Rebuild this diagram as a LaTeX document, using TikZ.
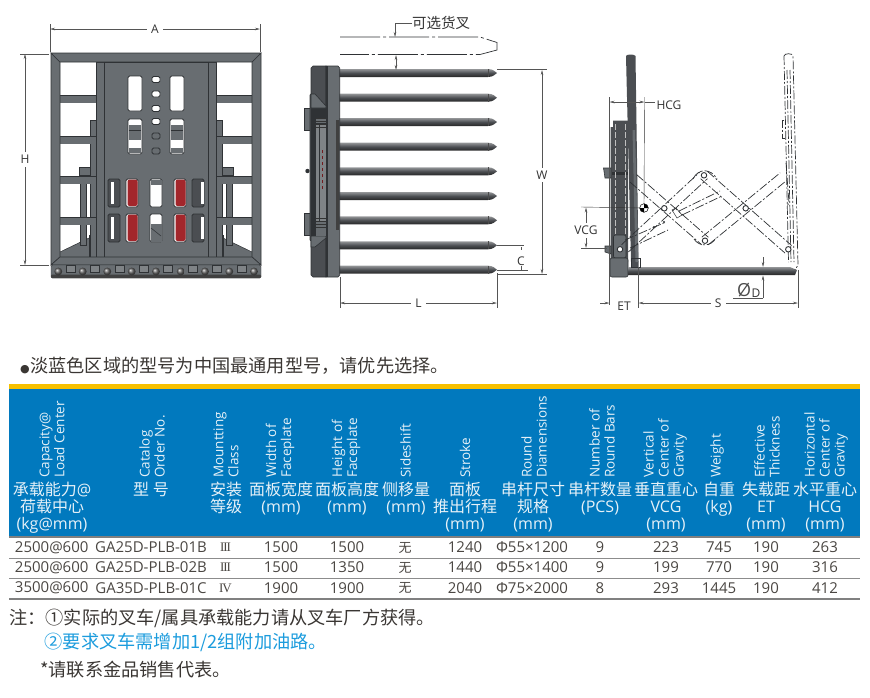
\documentclass[tikz,border=0pt]{standalone}
\usepackage{fontspec}
\setmainfont{Open Sans}
\newfontfamily\cjk{Noto Sans CJK SC}
\newfontfamily\romanum[LetterSpace=-8]{Liberation Serif}
\usepackage{xcolor}
\usetikzlibrary{arrows.meta, calc, positioning}

\definecolor{framegray}{HTML}{686D71}
\definecolor{frameline}{HTML}{2F3235}
\definecolor{darkgray}{HTML}{4B4E52}
\definecolor{slotred}{HTML}{A3262B}
\definecolor{headblue}{HTML}{0179BE}
\definecolor{headyellow}{HTML}{F7C000}
\definecolor{headtext}{HTML}{E6F1F8}
\definecolor{rowtext}{HTML}{4A4642}
\definecolor{ruleline}{HTML}{8C8C8C}
\definecolor{notetext}{HTML}{3A3633}
\definecolor{noteblue}{HTML}{1C9CDD}
\definecolor{dimline}{HTML}{555555}

\begin{document}
\begin{tikzpicture}[
    x=1pt, y=-1pt,
    framepart/.style={fill=framegray, draw=frameline, line width=0.6pt},
    slotbox/.style={fill=white, draw=frameline, line width=0.9pt, rounded corners=1.5pt},
    shadebar/.style={top color=#1!60!white, bottom color=black!85, middle color=#1},
    shadebar/.default=darkgray,
    linkline/.style={draw=frameline, line width=0.7pt, dash pattern=on 9pt off 2pt on 2pt off 2pt},
    dimext/.style={draw=dimline, line width=0.4pt},
    dimarrow/.style={draw=dimline, line width=0.5pt, {Stealth[length=5pt,width=2.5pt]}-{Stealth[length=5pt,width=2.5pt]}},
    dimtip/.style={draw=dimline, line width=0.5pt, -{Stealth[length=5pt,width=2.5pt]}},
    dimlabel/.style={font=\fontsize{12}{13}\selectfont, text=black!80, fill=white, inner sep=1pt},
    pivot/.style={circle, draw=frameline, fill=white, line width=0.9pt, inner sep=0pt, minimum size=5.5pt},
    headrot/.style={rotate=90, anchor=west, align=left, inner sep=0pt, text=headtext, font=\fontsize{13.5}{15}\selectfont},
    headcn/.style={anchor=north, align=center, inner sep=0pt, text=headtext, font=\fontsize{16}{17.2}\selectfont},
    rowcell/.style={inner sep=0pt, text=rowtext, font=\fontsize{15}{16}\selectfont},
    notetxt/.style={anchor=west, inner sep=0pt, text=notetext, font=\fontsize{18.2}{20}\selectfont}
]
\useasboundingbox (0,0) rectangle (870,697);

% Front view
\begin{scope}[shift={(156,0)}]
  \foreach \mx in {1,-1} {
    \begin{scope}[xscale=\mx]
      \fill[framegray] (96,252) -- (67,238) -- (67,257) -- (96,257) -- cycle;
      \draw[frameline, line width=0.5pt] (96,252) -- (67,238);
      \draw[frameline, line width=0.9pt] (67,235) -- (67,257);
      \draw[framepart] (70,175) rectangle (76,245);
      \draw[framepart] (60,120) rectangle (66,257);
      \draw[framepart] (66,167) rectangle (77,175);
      \foreach \ry in {95,136,176,217} {
        \draw[framepart, draw=none] (60,\ry) rectangle (96,\ry+7.5);
        \draw[frameline, line width=0.3pt] (60,\ry) -- (96,\ry);
      }
      \draw[framepart] (52,62) rectangle (60,257);
      \draw[framepart] (105,53) -- (105,265) -- (96,257) -- (96,62) -- cycle;
    \end{scope}
  }
  \draw[framepart] (-105,53) -- (105,53) -- (96,62) -- (-96,62) -- cycle;
  \draw[framepart] (-52,62) rectangle (52,257);
  \draw[framepart] (-96,257) -- (96,257) -- (105,265) -- (-105,265) -- cycle;
  \draw[fill=framegray, draw=frameline, rounded corners=1.5pt] (-105,265) rectangle (105,278);
  \fill[black!75, rounded corners=1pt] (-105,274.5) rectangle (105,278);
  % Slots
  \foreach \mx in {-21,21} {
    \draw[slotbox] (\mx-7,76) rectangle (\mx+7,111);
    \draw[slotbox] (\mx-7,119) rectangle (\mx+7,154);
    \fill[framegray] (\mx-6.4,125) rectangle (\mx+6.4,140);
    \fill[framegray] (\mx-6.4,148) rectangle (\mx+6.4,153.4);
    \draw[frameline, line width=0.4pt] (\mx-6.4,130) -- (\mx+6.4,130);
  }
  \foreach \ry/\rf in {79.5/white,94/white,108.5/white,121.5/white,136/framegray,151/framegray} {
    \draw[slotbox, fill=\rf] (-4,\ry-3) rectangle (4,\ry+3);
  }
  \foreach \ry in {179,214} {
    \foreach \mx in {-42,42} {
      \draw[slotbox, fill=darkgray] (\mx-6,\ry) rectangle (\mx+6,\ry+28);
      \fill[white] (\mx+\mx/14,\ry+3) rectangle (\mx+\mx/14+2.5,\ry+25);
    }
    \foreach \mx in {-24,24} {
      \draw[slotbox] (\mx-6,\ry) rectangle (\mx+6,\ry+28);
      \fill[slotred, rounded corners=2pt] (\mx-4.5,\ry+0.5) rectangle (\mx+5.5,\ry+27);
    }
    \draw[slotbox] (-6,\ry) rectangle (6,\ry+28);
  }
  \fill[framegray] (-5.5,179.5) rectangle (5.5,184.5);
  \fill[framegray] (-5.5,224) rectangle (5.5,241.5);
  \draw[frameline, line width=0.5pt] (-5,228) -- (5,236);
  % Studs
  \foreach \sx in {-85.5,-61,-36.5,-12,12,36.5,61,85.5} {
    \draw[frameline, line width=0.6pt, fill=framegray!85!white] (\sx-4.5,265) rectangle (\sx+4.5,272);
  }
  \foreach \sx in {-97.7,-73.3,-48.7,-24.3,0,24.7,49,73.3,98} {
    \shade[ball color=black!60] (\sx,271.5) circle (3.9);
  }
\end{scope}

% Front dimensions
\coordinate (al) at (50,29);
\coordinate (ar) at (260,29);
\coordinate (ht) at (25,54);
\coordinate (hb) at (25,265);
\draw[dimext] (50,24) -- (50,52);
\draw[dimext] (260.5,24) -- (260.5,52);
\draw[dimext] (20,54) -- (49,54);
\draw[dimext] (20,265) -- (49,265);
\draw[dimarrow] (al) -- node[dimlabel, fill=white, inner xsep=4pt] (lba) {A} (ar);
\draw[dimarrow] (ht) -- node[dimlabel, fill=white, inner ysep=3pt] (lbh) {H} (hb);

% Side view rods
\foreach \ry in {73,97.7,122,146.7,171.3,196,220.3,245.3,269.7} {
  \shade[shadebar] (338,\ry-4) -- (488,\ry-4) .. controls (493,\ry-4) and (495,\ry-1.5) .. (497,\ry)
    .. controls (495,\ry+1.5) and (493,\ry+4) .. (488,\ry+4) -- (338,\ry+4) -- cycle;
  \draw[black!70, line width=0.4pt] (488,\ry-4) -- (488,\ry+4);
}
% Side view faceplate
\draw[framepart] (304.5,108) rectangle (311,130);
\draw[framepart] (304.5,213) rectangle (311,235);
\fill[frameline] (307.5,171) circle (2.2);
\draw[framepart, fill=darkgray] (313,66) -- (326,66) -- (326,277) -- (313,277) -- (311,275) -- (311,241) -- (310,240)
  -- (310,95) -- (311,94) -- (311,68) -- cycle;
\draw[framepart] (326,66) -- (338,66) -- (339.7,68) -- (339.7,275) -- (338,277) -- (326,277) -- cycle;
\fill[frameline] (326,66) rectangle (328,277);
\fill[black!75] (336,120) rectangle (339,230);
\fill[frameline] (311,108) rectangle (326,236);
\draw[framepart] (311,94) -- (315,94) -- (326,106) -- (326,108) -- (311,108) -- cycle;
\draw[framepart] (311,236) -- (326,236) -- (326,238) -- (315,247) -- (311,247) -- cycle;
\fill[framegray] (316,118) rectangle (326,123);
\fill[framegray!85!white] (316,125) rectangle (326,222);
\fill[framegray] (316,222) rectangle (326,236);
\foreach \ry in {118,121,124,127,218,221,224,227} {
  \draw[black!80, line width=0.5pt] (316,\ry) -- (326,\ry);
}
\draw[frameline, line width=0.5pt] (319,125) -- (319,222);
\draw[slotred!70!black, line width=0.4pt, dashed] (322,150) -- (322,190);

% Optional fork
\draw[linkline, dash pattern=on 40pt off 3pt on 3pt off 3pt] (340,37) -- (480,37) -- (497,42.5) -- (497,50) -- (480,54.5) -- (340,54.5);
\node[inner sep=0pt, anchor=west, text=black!80, font=\fontsize{14.5}{15}\selectfont] (optfork) at (412,23) {\cjk 可选货叉};
\coordinate (optend) at (395,37);
\draw[dimtip] (optfork.west) -- (395,23) -- (optend);
\coordinate (gapt) at (396,55);
\coordinate (gapb) at (396,70);
\draw[dimarrow] (gapt) -- (gapb);

% Side view dimensions
\coordinate (wt) at (542,70);
\coordinate (wb) at (542,274);
\draw[dimext] (497,69.5) -- (547,69.5);
\draw[dimext] (497,274) -- (547,274);
\draw[dimarrow] (wt) -- node[dimlabel, inner ysep=3pt, pos=0.515] (lbw) {W} (wb);
\coordinate (lr) at (497,303);
\coordinate (ll) at (340,303);
\draw[dimext] (340,277) -- (340,308);
\draw[dimext] (497,273) -- (497,308);
\draw[dimarrow] (ll) -- node[dimlabel, inner xsep=4pt] (lbl) {L} (lr);
\draw[dimext] (497,245.3) -- (524,245.3);
\draw[dimext] (497,270) -- (528,270);
\draw[dimline, line width=0.5pt] (521.5,247) -- (521.5,250);
\node[dimlabel, fill=none] (lbc) at (521,261) {C};
\draw[dimline, line width=0.5pt] (521.5,266) -- (521.5,270);

% Shifted view, fixed fork
\draw[framepart, fill=darkgray, draw=none] (613,120.5) -- (628,120.5) -- (628,262) -- (610.5,262) -- (610.5,127) -- (613,127) -- cycle;
\draw[framepart] (603.5,168) -- (611,168) -- (611,178) -- (605,178) -- cycle;
\draw[framepart] (605,246) -- (611,246) -- (611,254) -- (605,252) -- cycle;
\fill[frameline] (612,172) rectangle (628,175);
\foreach \lx in {615,625} {
  \draw[black!25, line width=0.4pt, dash pattern=on 6pt off 2pt] (\lx,124) -- (\lx,235);
}
\draw[framepart, rounded corners=2pt] (613.5,235) rectangle (626,258);
\draw[framepart, rounded corners=2pt] (610,258) rectangle (628,277);
\shade[shadebar] (628,267) -- (790,267) -- (797,270) -- (795,275) -- (628,275) -- cycle;
\draw[framepart, draw=none, fill=darkgray] (626,56) .. controls (626,54) and (635,54) .. (635.5,56)
  -- (638.5,262) -- (638.5,267) -- (631,267) -- (631,262) -- cycle;
\fill[framegray] (632.5,130) -- (635,130) -- (638.5,262) -- (635.5,262) -- cycle;
\draw[frameline, line width=0.8pt] (631,258) rectangle (640,267);

% Shifted view, dashed fork and links
\draw[linkline] (784,56) .. controls (784,53) and (793,53) .. (793,56) -- (798,265) -- (795,270);
\draw[linkline] (784,56) -- (788.5,262);
\draw[linkline] (787,70) -- (791,262);
\draw[linkline] (790,70) -- (794,262);
\draw[linkline] (784,120) -- (782.5,120) -- (782.5,138) -- (784.5,138);
\draw[linkline] (786,163) -- (789,203) -- (787,206);
\foreach \ax/\ay/\bx/\by in {633.3/178.3/705/241, 625/248.3/704/175, 704/175/788.3/249.3, 705/241/783.3/176.7} {
  \coordinate (ba) at (\ax,\ay);
  \coordinate (bb) at (\bx,\by);
  \draw[linkline] ($(ba)!5pt!90:(bb)$) -- ($(bb)!5pt!-90:(ba)$);
  \draw[linkline] ($(ba)!5pt!-90:(bb)$) -- ($(bb)!5pt!90:(ba)$);
}
\draw[linkline] (693,179) .. controls (698,168) and (711,168) .. (717,179);
\draw[linkline] (694,239) .. controls (699,247) and (711,247) .. (716,238);
\draw[frameline, line width=0.5pt] (672,210) -- (677,218) -- (682,215) -- (676,208) -- cycle;
\draw[linkline] (679,211) -- (720,191);
\draw[linkline] (682,215) -- (722,196);
\draw[linkline] (625,240) -- (666,222);
\draw[linkline] (630,248) -- (668,230);
\fill[frameline] (664,222) circle (1.2);
\fill[frameline] (654,227) circle (1.2);
\node[pivot] (pvt) at (704,175.3) {};
\node[pivot] (pvl) at (664.3,208.3) {};
\node[pivot] (pvr) at (745.7,208.3) {};
\node[pivot] (pvb) at (705,240.7) {};
\node[pivot] (pvc) at (620,249.3) {};
\node[pivot] (pve) at (788.3,249.3) {};

% Shifted view dimensions
\coordinate (cg) at (644,208);
\draw[dimext] (609.5,97) -- (609.5,305);
\draw[dimext, draw=black!80] (644.5,97) -- (cg);
\draw[dimext, draw=black!80] (581,207) -- (cg);
\draw[dimext] (581,248) -- (607,248);
\draw[dimarrow] (609.5,102) -- (644.5,102);
\draw[dimext] (644.5,102) -- (655,102);
\node[dimlabel] (lbhcg) at (669,105) {HCG};
\fill[white] (cg) circle (4.3);
\fill[black] (cg) -- +(0,-4.3) arc[start angle=-90, end angle=0, radius=4.3] -- cycle;
\fill[black] (cg) -- +(0,4.3) arc[start angle=90, end angle=180, radius=4.3] -- cycle;
\draw[black, line width=0.5pt] (cg) circle (4.3);
\draw[dimarrow] (586,207.5) -- node[dimlabel, inner ysep=3pt, pos=0.56] (lbvcg) {VCG} (586,248);
\coordinate (etl) at (609.5,303);
\coordinate (etr) at (638.5,303);
\coordinate (smr) at (798,303);
\draw[dimext] (638.5,267) -- (638.5,308);
\draw[dimext] (798,270) -- (798,308);
\draw[dimtip] (600,303) -- (etl);
\node[dimlabel] (lbet) at (624,306) {ET};
\draw[dimarrow] (etr) -- node[dimlabel, inner xsep=4pt, pos=0.5] (lbs) {S} (smr);
\node[inner sep=0pt, text=black!70, font=\fontsize{18}{18}\selectfont] (lbphi) at (744,290.5) {Ø};
\node[dimlabel, fill=none] (lbd) at (756,293) {D};
\draw[dimline, line width=0.5pt] (733,298) -- (763,298);
\draw[dimtip] (763,298) -- (763,275.5);
\draw[dimtip] (763,257) -- (763,267);

% Notes above table
\node[notetxt] (bulletnote) at (20,366) {{\fontspec{DejaVu Sans}\fontsize{11}{12}\selectfont ●}\hspace{0.5pt}{\cjk 淡蓝色区域的型号为中国最通用型号，请优先选择。}};

% Table head
\fill[headyellow] (9,384) rectangle (860,389);
\fill[headblue] (9,389) rectangle (860,536);
\fill[black!50] (9,536) rectangle (860,538.3);

\foreach \hx/\htxt in {
    52/{Capacity@\\Load Center}, 152/{Catalog\\Order No.}, 226/{Mountting\\Class},
    280/{Width of\\Faceplate}, 346/{Height of\\Faceplate}, 405.5/{Sideshift},
    465/{Stroke}, 534/{Round\\Diamensions}, 602/{Number of\\Round Bars},
    665/{Vertical\\Center of\\Gravity}, 717/{Weight}, 767/{Effective\\Thickness},
    826/{Horizontal\\Center of\\Gravity}} {
  \node[headrot] (hr\hx) at (\hx,478) {\htxt};
}
\foreach \hx/\htxt in {
    52/{{\cjk 承载能力}@\\{\cjk 荷载中心}\\(kg@mm)}, 151/{\cjk 型 号}, 226/{{\cjk 安装}\\{\cjk 等级}},
    281/{{\cjk 面板宽度}\\(mm)}, 347/{{\cjk 面板高度}\\(mm)}, 406/{{\cjk 侧移量}\\(mm)},
    465/{{\cjk 面板}\\{\cjk 推出行程}\\(mm)}, 533/{{\cjk 串杆尺寸}\\{\cjk 规格}\\(mm)},
    600/{{\cjk 串杆数量}\\(PCS)}, 666/{{\cjk 垂直重心}\\VCG\\(mm)}, 719/{{\cjk 自重}\\(kg)},
    766/{{\cjk 失载距}\\ET\\(mm)}, 825/{{\cjk 水平重心}\\HCG\\(mm)}} {
  \node[headcn] (hc\hx) at (\hx,481.5) {\htxt};
}

% Table rows
\foreach \ry in {558,578.5} {
  \draw[ruleline, line width=0.8pt] (9,\ry) -- (860,\ry);
}
\fill[black!50] (9,598) rectangle (860,600);
\foreach \ry/\rn/\ca/\cb/\cc/\cd/\ce/\cf/\cg/\ch/\ci/\cj/\ck/\cl in {
    547.5/a/2500@600/GA25D-PLB-01B/III/1500/1500/1240/Φ55×1200/9/223/745/190/263,
    567.5/b/2500@600/GA25D-PLB-02B/III/1500/1350/1440/Φ55×1400/9/199/770/190/316,
    588/c/3500@600/GA35D-PLB-01C/IV/1900/1900/2040/Φ75×2000/8/293/1445/190/412} {
  \node[rowcell] (r\rn1) at (51.7,\ry) {\ca};
  \node[rowcell] (r\rn2) at (151,\ry) {\cb};
  \node[rowcell] (r\rn3) at (225.5,\ry) {\romanum\fontsize{13}{14}\selectfont \cc};
  \node[rowcell] (r\rn4) at (281,\ry) {\cd};
  \node[rowcell] (r\rn5) at (347,\ry) {\ce};
  \node[rowcell] (r\rn6) at (405,\ry) {\cjk\fontsize{13}{14}\selectfont 无};
  \node[rowcell] (r\rn7) at (465,\ry) {\cf};
  \node[rowcell] (r\rn8) at (532,\ry) {\cg};
  \node[rowcell] (r\rn9) at (600,\ry) {\ch};
  \node[rowcell] (r\rn10) at (666,\ry) {\ci};
  \node[rowcell] (r\rn11) at (719,\ry) {\cj};
  \node[rowcell] (r\rn12) at (766,\ry) {\ck};
  \node[rowcell] (r\rn13) at (825,\ry) {\cl};
}

% Notes below table
\node[notetxt] (noteone) at (9,618) {\cjk 注：①实际的叉车/属具承载能力请从叉车厂方获得。};
\node[notetxt, text=noteblue] (notetwo) at (44.5,642) {\cjk ②要求叉车需增加1/2组附加油路。};
\node[notetxt] (notethree) at (40,670) {\cjk *请联系金品销售代表。};

\end{tikzpicture}
\end{document}
